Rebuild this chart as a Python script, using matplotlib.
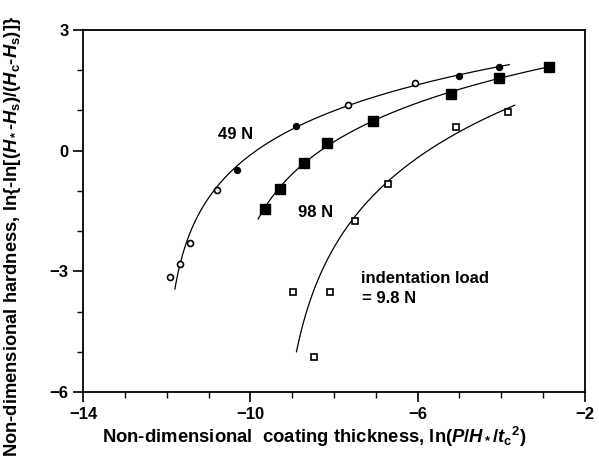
import numpy as np
import matplotlib
matplotlib.use("Agg")
import matplotlib.pyplot as plt

plt.rcParams['font.family'] = 'Liberation Sans'
plt.rcParams['font.weight'] = 'bold'
plt.rcParams['mathtext.fontset'] = 'custom'
plt.rcParams['mathtext.rm'] = 'Liberation Sans:bold'
plt.rcParams['mathtext.it'] = 'Liberation Sans:italic:bold'
plt.rcParams['mathtext.bf'] = 'Liberation Sans:bold'

# 49 N (small circles)
x49 = [-11.92, -11.68, -11.44, -10.79, -10.32, -8.90, -7.66, -6.06, -5.00, -4.05]
y49 = [-3.14, -2.82, -2.30, -0.98, -0.48, 0.61, 1.13, 1.68, 1.86, 2.08]
filled49 = [False, False, False, False, True, True, False, False, True, True]

# 98 N (filled squares)
x98 = [-9.65, -9.29, -8.71, -8.17, -7.07, -5.20, -4.06, -2.87]
y98 = [-1.44, -0.96, -0.30, 0.20, 0.74, 1.41, 1.81, 2.09]

# 9.8 N (open squares); the lowest point sits off the drawn trend
x9 = [-8.49, -8.97, -8.09, -7.49, -6.71, -5.08, -3.85]
y9 = [-5.14, -3.52, -3.52, -1.74, -0.82, 0.58, 0.97]
used9 = [False, True, True, True, True, True, True]

fig = plt.figure(figsize=(5.99, 4.59), dpi=100)
ax = fig.add_axes([0.1386, 0.146, 0.838, 0.7886])


def fit_curve(xs, ys, y_lo, y_hi):
    # fitted trend x = x0 + c*exp(k*y)  (i.e. y = a + b*ln(x - x0))
    xs = np.asarray(xs)
    ys = np.asarray(ys)
    best = None
    for k in np.linspace(0.05, 3, 600):
        A = np.column_stack([np.ones_like(ys), np.exp(k * ys)])
        coef, *_ = np.linalg.lstsq(A, xs, rcond=None)
        err = np.sum((A @ coef - xs) ** 2)
        if best is None or err < best[0]:
            best = (err, k, coef)
    _, k, (x0, c) = best
    yy = np.linspace(y_lo, y_hi, 300)
    return x0 + c * np.exp(k * yy), yy


cx, cy = fit_curve(x49, y49, min(y49) - 0.3, max(y49) + 0.06)
ax.plot(cx, cy, color='black', lw=0.9)
cx, cy = fit_curve(x98, y98, min(y98) - 0.26, max(y98) + 0.02)
ax.plot(cx, cy, color='black', lw=0.9)
m = np.array(used9)
cx, cy = fit_curve(np.array(x9)[m], np.array(y9)[m], min(y9) + 0.14, max(y9) + 0.16)
ax.plot(cx, cy, color='black', lw=0.9)

x49 = np.array(x49)
y49 = np.array(y49)
f = np.array(filled49)
ax.plot(x49[~f], y49[~f], 'o', ms=4.3, mfc='white', mec='black', mew=1.2)
ax.plot(x49[f], y49[f], 'o', ms=4.3, mfc='black', mec='black')
ax.plot(x98, y98, 's', ms=6.5, mfc='black', mec='black')
ax.plot(x9, y9, 's', ms=4.8, mfc='white', mec='black', mew=1.2)

ax.text(-10.36, 0.41, '49 N', fontsize=12, ha='center', va='center')
ax.text(-8.43, -1.53, '98 N', fontsize=12, ha='center', va='center')
ax.text(-7.35, -3.17, 'indentation load', fontsize=12, ha='left', va='center')
ax.text(-7.33, -3.67, '= 9.8 N', fontsize=12, ha='left', va='center')

ax.set_xlim(-14, -2)
ax.set_ylim(-6, 3)
ax.set_xticks([-14, -10, -6, -2])
ax.set_xticks(np.arange(-14, -1, 1), minor=True)
ax.set_yticks([-6, -3, 0, 3])
ax.set_yticks(np.arange(-6, 4, 1), minor=True)
ax.tick_params(which='major', direction='out', length=7, width=1.2, labelsize=12)
ax.tick_params(which='minor', direction='out', length=4, width=1.0)
for s in ax.spines.values():
    s.set_linewidth(1.3)

fig.text(0.524, 0.048, r'Non-dimensional  coating thickness, ln($P/H_*/t_\mathrm{c}{}^2$)',
         fontsize=13.3, ha='center', va='center')
fig.text(0.021, 0.484, r'Non-dimensional hardness, ln$\{$-ln[($H_*$-$H_\mathrm{s}$)/($H_\mathrm{c}$-$H_\mathrm{s}$)]$\}$',
         fontsize=13.2, ha='center', va='center', rotation=90)

fig.savefig('out.png', dpi=100)
